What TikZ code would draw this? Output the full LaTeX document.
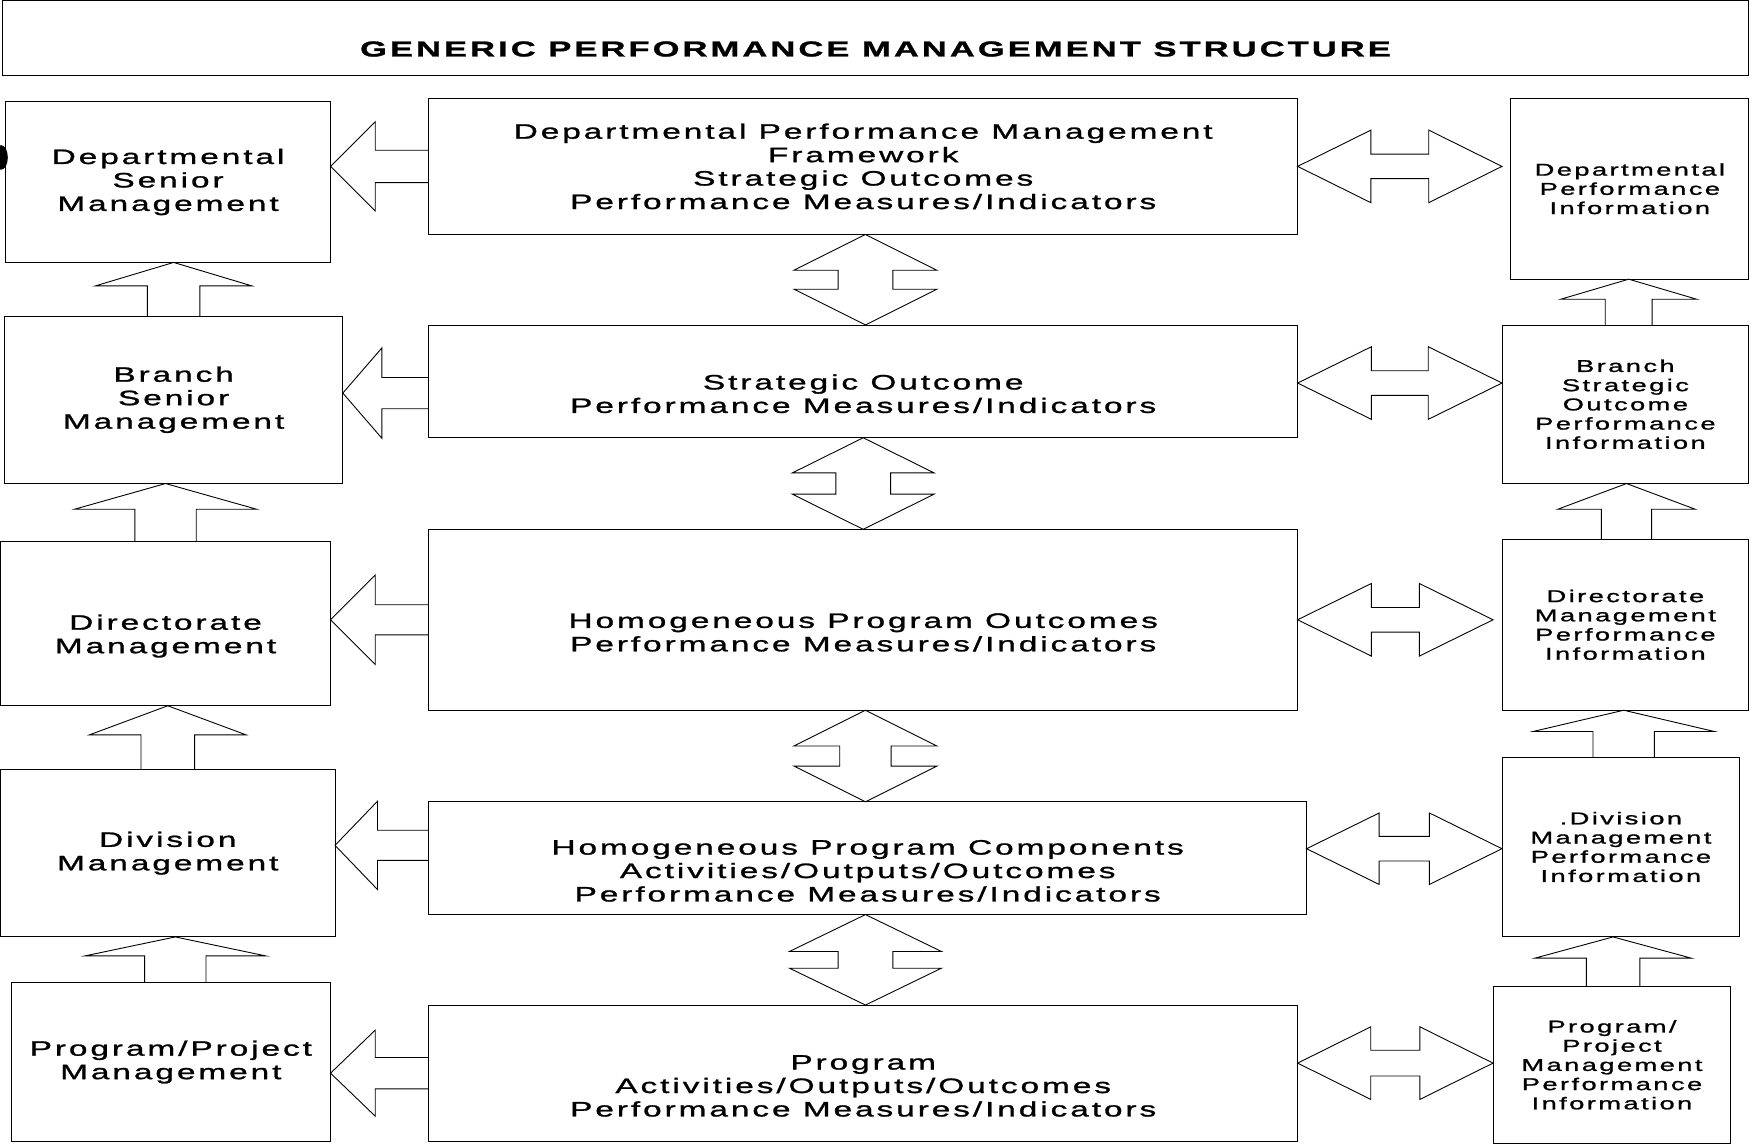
\documentclass[tikz,border=0pt]{standalone}
\usepackage{fontspec}
\setmainfont{Liberation Sans}[FakeStretch=1.6,LetterSpace=14,FakeBold=1.2]
\usetikzlibrary{calc}

% outlined block arrow: tail, tip, head length, head half width, shaft half width
\newcommand{\onearrow}[5]{%
  \coordinate (oa-t) at #1;
  \coordinate (oa-p) at #2;
  \coordinate (oa-b) at ($(oa-p)!#3!(oa-t)$);
  \draw[blockarrow] ($(oa-t)!#5!90:(oa-p)$) -- ($(oa-b)!#5!-90:(oa-t)$) -- ($(oa-b)!#4!-90:(oa-t)$)
    -- (oa-p) -- ($(oa-b)!#4!90:(oa-t)$) -- ($(oa-b)!#5!90:(oa-t)$) -- ($(oa-t)!#5!-90:(oa-p)$);
}
% outlined double block arrow: tip, tip, head length, head half width, shaft half width
\newcommand{\twoarrow}[5]{%
  \coordinate (ta-p) at #1;
  \coordinate (ta-q) at #2;
  \coordinate (ta-a) at ($(ta-p)!#3!(ta-q)$);
  \coordinate (ta-b) at ($(ta-q)!#3!(ta-p)$);
  \draw[blockarrow] (ta-p) -- ($(ta-a)!#4!90:(ta-q)$) -- ($(ta-a)!#5!90:(ta-q)$) -- ($(ta-b)!#5!-90:(ta-p)$)
    -- ($(ta-b)!#4!-90:(ta-p)$) -- (ta-q) -- ($(ta-b)!#4!90:(ta-p)$) -- ($(ta-b)!#5!90:(ta-p)$)
    -- ($(ta-a)!#5!-90:(ta-q)$) -- ($(ta-a)!#4!-90:(ta-q)$) -- cycle;
}

\begin{document}
\begin{tikzpicture}[x=1pt, y=-1pt,
    unitbox/.style ={draw, line width=0.8pt, align=center, inner sep=0pt, outer sep=0pt,
                     font=\fontsize{18.7}{21}\selectfont},
    infobox/.style ={unitbox, font=\fontsize{15.3}{17.2}\selectfont},
    blockarrow/.style ={line width=0.8pt, line join=miter}]
   \useasboundingbox (0,0) rectangle (1568,1025.3);

   \node[unitbox, minimum width=1564pt, minimum height=67.2pt, font=\fontsize{19.35}{18}\selectfont\bfseries]
      (title) at (784,34.4) {\strut\\GENERIC PERFORMANCE MANAGEMENT STRUCTURE};

   % left column
   \fill (1,141) ellipse [x radius=6pt, y radius=11pt];
   \node[unitbox, minimum width=291pt, minimum height=144pt] (l1) at (150.5,163) {Departmental\\Senior\\Management};
   \node[unitbox, minimum width=303pt, minimum height=150pt] (l2) at (155.5,358) {Branch\\Senior\\Management};
   \node[unitbox, minimum width=295.5pt, minimum height=147pt] (l3) at (148.25,558.5) {\strut\\Directorate\\Management};
   \node[unitbox, minimum width=299.5pt, minimum height=150pt] (l4) at (150.25,764) {Division\\Management};
   \node[unitbox, minimum width=286pt, minimum height=142pt] (l5) at (153,951) {Program/Project\\Management};

   % middle column
   \node[unitbox, minimum width=778pt, minimum height=122pt] (m1) at (773,149)
      {Departmental Performance Management\\Framework\\Strategic Outcomes\\Performance Measures/Indicators};
   \node[unitbox, minimum width=778pt, minimum height=101pt] (m2) at (773,341.5)
      {\strut\\Strategic Outcome\\Performance Measures/Indicators};
   \node[unitbox, minimum width=778pt, minimum height=162pt] (m3) at (773,555)
      {\strut\\Homogeneous Program Outcomes\\Performance Measures/Indicators};
   \node[unitbox, minimum width=786pt, minimum height=101pt] (m4) at (777,768.5)
      {\strut\\Homogeneous Program Components\\Activities/Outputs/Outcomes\\Performance Measures/Indicators};
   \node[unitbox, minimum width=778pt, minimum height=122pt] (m5) at (773,961)
      {\strut\\Program\\Activities/Outputs/Outcomes\\Performance Measures/Indicators};

   % right column
   \node[infobox, minimum width=213pt, minimum height=162pt] (r1) at (1459.5,169) {Departmental\\Performance\\Information};
   \node[infobox, minimum width=221pt, minimum height=142pt] (r2) at (1455.5,362) {Branch\\Strategic\\Outcome\\Performance\\Information};
   \node[infobox, minimum width=221pt, minimum height=153pt] (r3) at (1455.5,559.5) {Directorate\\Management\\Performance\\Information};
   \node[infobox, minimum width=213pt, minimum height=161pt] (r4) at (1451.5,758.5) {.Division\\Management\\Performance\\Information};
   \node[infobox, minimum width=213pt, minimum height=141pt] (r5) at (1443.5,953.5) {Program/\\Project\\Management\\Performance\\Information};

   % arrows to the left column
   \onearrow{(m1.west)}{(l1.east |- m1.west)}{40pt}{40pt}{14.5pt}
   \onearrow{($(m2.west)+(0,10.5)$)}{($(l2.east |- m2.west)+(0,10.5)$)}{35pt}{40.5pt}{14pt}
   \onearrow{(m3.west)}{(l3.east |- m3.west)}{40pt}{40pt}{13.5pt}
   \onearrow{($(m4.west)+(0,-11.5)$)}{($(l4.east |- m4.west)+(0,-11.5)$)}{38pt}{39.5pt}{13.5pt}
   \onearrow{(m5.west)}{(l5.east |- m5.west)}{40pt}{38.5pt}{14pt}

   % upward arrows, left column
   \onearrow{(l2.north)}{(l2.north |- l1.south)}{21pt}{70pt}{23.5pt}
   \onearrow{(l3.north)}{(l3.north |- l2.south)}{23pt}{81.5pt}{27.5pt}
   \onearrow{(l4.north)}{(l4.north |- l3.south)}{26pt}{70pt}{24pt}
   \onearrow{($(l5.north)+(4,0)$)}{($(l5.north |- l4.south)+(4,0)$)}{17pt}{81pt}{27.5pt}

   % double arrows, middle column
   \twoarrow{($(m1.south)+(2,0)$)}{($(m1.south |- m2.north)+(2,0)$)}{32pt}{64pt}{24.5pt}
   \twoarrow{(m2.south)}{(m2.south |- m3.north)}{31.5pt}{63.5pt}{24.5pt}
   \twoarrow{($(m3.south)+(2,0)$)}{($(m3.south |- m4.north)+(2,0)$)}{32pt}{64pt}{23pt}
   \twoarrow{($(m4.south)+(-2,0)$)}{($(m4.south |- m5.north)+(-2,0)$)}{33pt}{68pt}{24.5pt}

   % double arrows to the right column
   \twoarrow{(m1.east)}{($(r1.west |- m1.east)+(-8,0)$)}{65.6pt}{32.5pt}{11pt}
   \twoarrow{($(m2.east)+(0,1.5)$)}{($(r2.west |- m2.east)+(0,1.5)$)}{66pt}{32.5pt}{11pt}
   \twoarrow{(m3.east)}{($(r3.west |- m3.east)+(-8,0)$)}{66pt}{32.5pt}{11pt}
   \twoarrow{($(m4.east)+(0,-8.5)$)}{($(r4.west |- m4.east)+(0,-8.5)$)}{65pt}{32pt}{11pt}
   \twoarrow{($(m5.east)+(0,-9)$)}{($(r5.west |- m5.east)+(0,-9)$)}{65.5pt}{32.5pt}{11.5pt}

   % upward arrows, right column
   \onearrow{($(r2.north)+(3,0)$)}{($(r2.north |- r1.south)+(3,0)$)}{18pt}{61pt}{21pt}
   \onearrow{($(r3.north)+(1,0)$)}{($(r3.north |- r2.south)+(1,0)$)}{23pt}{61.5pt}{22.5pt}
   \onearrow{($(r4.north)+(2.5,0)$)}{($(r4.north |- r3.south)+(2.5,0)$)}{19pt}{81pt}{27.5pt}
   \onearrow{($(r5.north)+(1,0)$)}{($(r5.north |- r4.south)+(1,0)$)}{19pt}{70pt}{24pt}
\end{tikzpicture}
\end{document}
